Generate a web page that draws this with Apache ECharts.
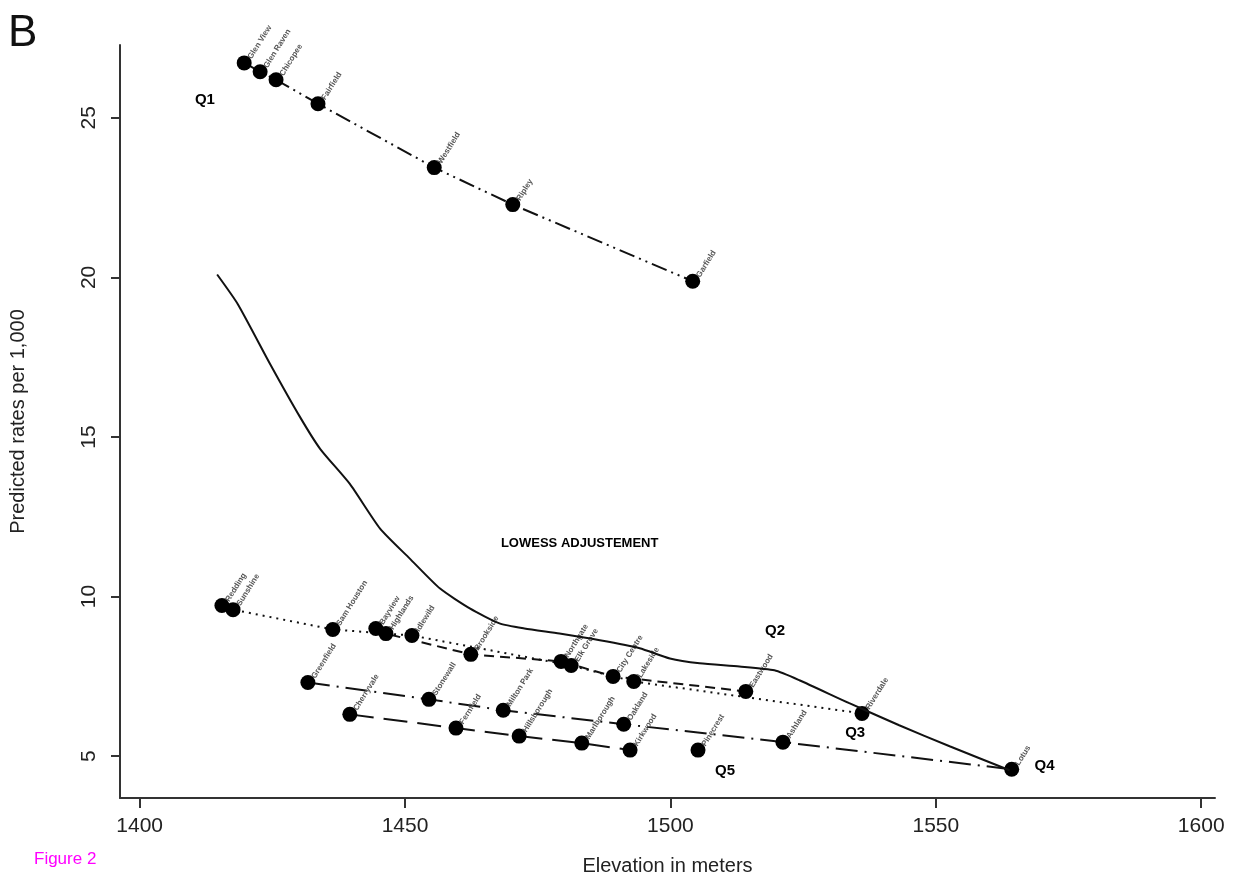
<!DOCTYPE html>
<html><head><meta charset="utf-8">
<script src="https://cdn.jsdelivr.net/npm/echarts@6/dist/echarts.min.js"></script>
<style>html,body{margin:0;padding:0;background:#fff}#c{width:1234px;height:881px}</style>
</head><body><div id="c"></div>
<script>
// ---- data ----
const xTicks = [1400, 1450, 1500, 1550, 1600];
const yTicks = [5, 10, 15, 20, 25];

const q1Elev = [1419.7, 1422.7, 1425.7, 1433.6, 1455.5, 1470.3, 1504.2];
const q1Rate = [26.72, 26.44, 26.19, 25.44, 23.44, 22.28, 19.88];
const q1Names = ['Glen View', 'Glen Raven', 'Chicopee', 'Fairfield', 'Westfield', 'Ripley', 'Garfield'];

const q2Elev = [1444.5, 1446.4, 1462.4, 1479.4, 1489.2, 1514.2];
const q2Rate = [9.00, 8.84, 8.19, 7.97, 7.50, 7.03];
const q2Names = ['Bayview', 'Highlands', 'Brookside', 'Northgate', 'City Centre', 'Eastwood'];

const q3Elev = [1415.5, 1417.6, 1436.4, 1451.3, 1481.3, 1493.1, 1536.1];
const q3Rate = [9.72, 9.59, 8.97, 8.78, 7.84, 7.34, 6.34];
const q3Names = ['Redding', 'Sunshine', 'Sam Houston', 'Idlewild', 'Elk Grove', 'Lakeside', 'Riverdale'];

const q4Elev = [1431.7, 1454.5, 1468.5, 1491.2, 1521.2, 1564.3];
const q4Rate = [7.31, 6.78, 6.44, 6.00, 5.44, 4.59];
const q4Names = ['Greenfield', 'Stonewall', 'Milton Park', 'Oakland', 'Ashland', 'Lotus'];

const q5Elev = [1439.6, 1459.6, 1471.5, 1483.3, 1492.4, 1505.2];
const q5Rate = [6.31, 5.88, 5.63, 5.41, 5.19, 5.19];
const q5Names = ['Cherryvale', 'Fernfield', 'Hillsborough', 'Marlborough', 'Kirkwood', 'Pinecrest'];

const lowessElev = [1414.6, 1418.5, 1424.6, 1430.2, 1434.0, 1439.6, 1445.3, 1450.9, 1456.6, 1462.2, 1467.8, 1472.5, 1479.1, 1486.7, 1494.2, 1499.9, 1505.5, 1513.0, 1519.6, 1524.3, 1533.7, 1543.1, 1552.6, 1563.9];
const lowessRate = [20.09, 19.16, 17.28, 15.63, 14.63, 13.53, 12.13, 11.19, 10.25, 9.63, 9.16, 9.00, 8.84, 8.63, 8.38, 8.06, 7.91, 7.81, 7.69, 7.38, 6.66, 5.97, 5.31, 4.56];

const groupLabels = ['Q1', 'Q2', 'Q3', 'Q4', 'Q5'];
const groupLabelElev = [1412.3, 1519.7, 1534.8, 1570.5, 1510.3];
const groupLabelRate = [25.56, 8.94, 5.72, 4.69, 4.53];

const lowessText = 'LOWESS ADJUSTEMENT';
const lowessTextElev = 1482.9;
const lowessTextRate = 11.66;

// ---- build ----
function pts(xs, ys, names) { return xs.map((x, i) => ({ value: [x, ys[i]], name: names ? names[i] : '' })); }

const pointLabel = {
  show: true, formatter: p => p.name, rotate: 58, position: [13, 3],
  align: 'left', verticalAlign: 'middle', fontSize: 8, fontWeight: 'bold',
  color: '#555', fontFamily: 'Liberation Sans, Arial, sans-serif'
};

function group(xs, ys, names, dash, lineCount) {
  const d = pts(xs, ys, names);
  const out = [];
  out.push({
    type: 'line', data: d.slice(0, lineCount || d.length), showSymbol: false, symbol: 'none',
    lineStyle: { color: '#111', width: 2, type: dash }, z: 2, silent: true
  });
  out.push({
    type: 'scatter', data: d, symbol: 'circle', symbolSize: 15,
    itemStyle: { color: '#000', opacity: 1 }, label: pointLabel, z: 3
  });
  return out;
}

const boldLabel = (size) => ({ show: true, position: 'inside', formatter: p => p.name, fontSize: size, fontWeight: 'bold', color: '#000', fontFamily: 'Liberation Sans, Arial, sans-serif' });

const series = [].concat(
  group(q1Elev, q1Rate, q1Names, [16, 5, 2, 5, 2, 5]),
  group(q2Elev, q2Rate, q2Names, [10, 6]),
  group(q3Elev, q3Rate, q3Names, [2, 5]),
  group(q4Elev, q4Rate, q4Names, [22, 7, 2, 7]),
  group(q5Elev, q5Rate, q5Names, [24, 10], 5),
  [{
    type: 'line', data: lowessElev.map((x, i) => [x, lowessRate[i]]), symbol: 'none', smooth: 0.2,
    lineStyle: { color: '#111', width: 2 }, z: 4
  },
  {
    type: 'scatter', symbolSize: 0, itemStyle: { opacity: 1 },
    data: groupLabels.map((t, i) => ({ value: [groupLabelElev[i], groupLabelRate[i]], name: t })),
    label: boldLabel(15)
  },
  {
    type: 'scatter', symbolSize: 0, itemStyle: { opacity: 1 },
    data: [{ value: [lowessTextElev, lowessTextRate], name: lowessText }],
    label: boldLabel(13)
  }]
);

const axisFont = { fontSize: 21, color: '#222', fontFamily: 'Liberation Sans Narrow, Liberation Sans, Arial, sans-serif' };
const chart = echarts.init(document.getElementById('c'), null, { renderer: 'canvas' });
chart.setOption({
  animation: false,
  backgroundColor: '#fff',
  grid: { left: 120, right: 19, top: 45, bottom: 81 },
  graphic: [
    { type: 'text', left: 8, top: 12, style: { text: 'B', fontSize: 44, fill: '#111', fontFamily: 'Liberation Sans, Arial, sans-serif' } },
    { type: 'text', left: 34, top: 851, style: { text: 'Figure 2', fontSize: 17, fill: '#ff00ff', fontFamily: 'Liberation Sans, Arial, sans-serif' } }
  ],
  xAxis: {
    type: 'value', min: 1396.3, max: 1602.6,
    name: 'Elevation in meters', nameLocation: 'middle', nameGap: 58,
    nameTextStyle: { fontSize: 20, color: '#222', fontFamily: 'Liberation Sans Narrow, Liberation Sans, Arial, sans-serif' },
    axisLine: { lineStyle: { color: '#333', width: 2 } },
    axisTick: { customValues: xTicks, length: 10, lineStyle: { color: '#333', width: 2 } },
    axisLabel: Object.assign({ customValues: xTicks, margin: 18, formatter: v => String(v) }, axisFont),
    splitLine: { show: false }
  },
  yAxis: {
    type: 'value', min: 3.69, max: 27.28,
    name: 'Predicted rates per 1,000', nameLocation: 'middle', nameGap: 92,
    nameTextStyle: { fontSize: 20, color: '#222', fontFamily: 'Liberation Sans Narrow, Liberation Sans, Arial, sans-serif' },
    axisLine: { show: true, lineStyle: { color: '#333', width: 2 } },
    axisTick: { show: true, customValues: yTicks, length: 9, lineStyle: { color: '#333', width: 2 } },
    axisLabel: Object.assign({ customValues: yTicks, rotate: 90, margin: 20, formatter: v => String(v) }, axisFont),
    splitLine: { show: false }
  },
  series: series
});
</script>
</body></html>
